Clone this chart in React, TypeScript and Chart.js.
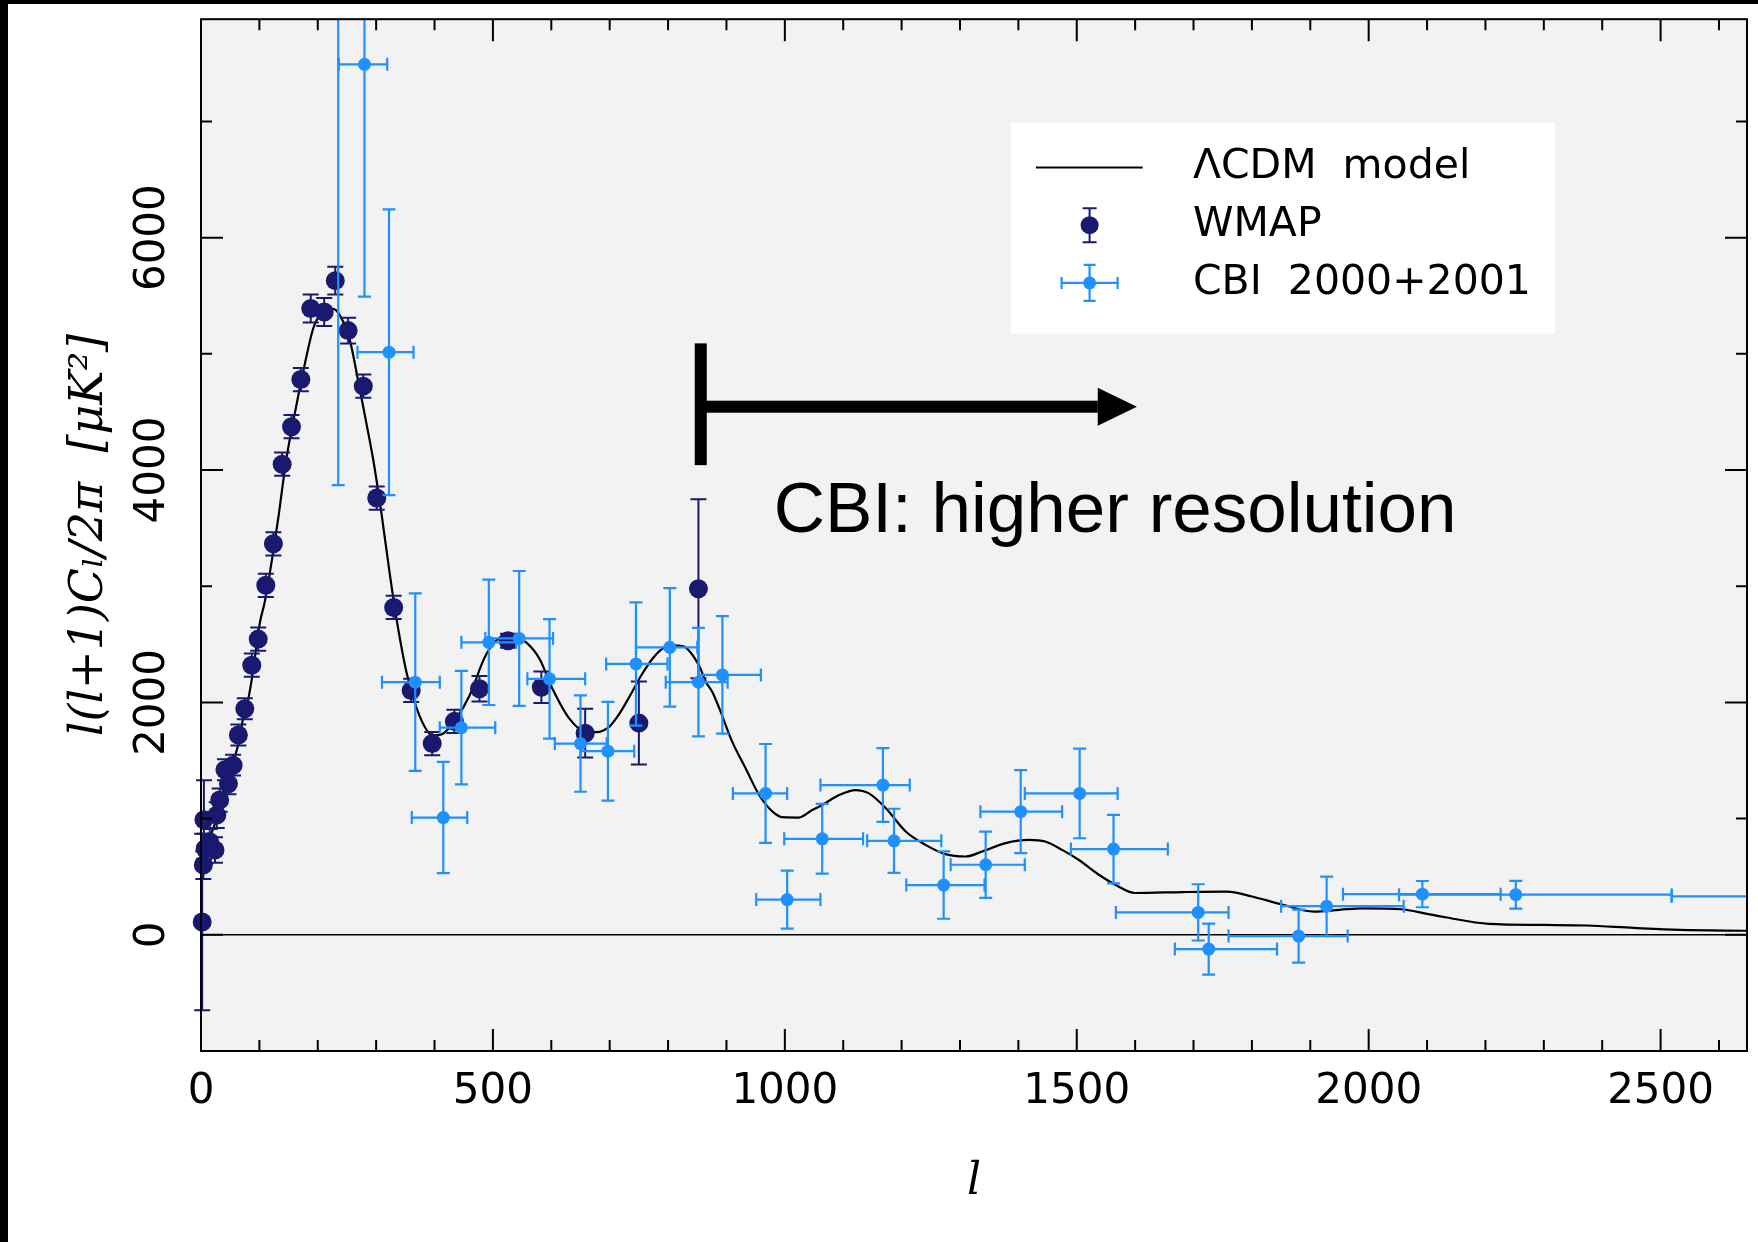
import React, { useEffect, useRef } from "react";
import { Chart, registerables } from "chart.js";

Chart.register(...registerables);

// ---------- axes ----------
const X_MIN = 0;
const X_MAX = 2648;
const Y_MIN = -1000;
const Y_MAX = 7880;
const xTickLabels = [0, 500, 1000, 1500, 2000, 2500];
const xMinorTicks = [100, 200, 300, 400, 600, 700, 800, 900, 1100, 1200, 1300, 1400, 1600, 1700, 1800, 1900, 2100, 2200, 2300, 2400, 2600];
const yTickLabels = [0, 2000, 4000, 6000];
const yMinorTicks = [1000, 3000, 5000, 7000];

// ---------- LCDM model curve ----------
const modelL = [2, 10, 20, 30, 40, 50, 64, 72, 81, 87, 101, 109, 118, 132, 146, 164, 178, 192, 201, 215, 226, 238, 255, 269, 280, 295, 309, 323, 335, 352, 374, 397, 412, 437, 460, 486, 505, 525, 540, 557, 580, 602, 631, 659, 677, 699, 715, 735, 755, 773, 790, 805, 819, 830, 853, 865, 876, 888, 910, 933, 956, 979, 996, 1024, 1047, 1064, 1093, 1121, 1144, 1173, 1207, 1241, 1275, 1310, 1338, 1378, 1418, 1446, 1475, 1503, 1538, 1566, 1600, 1682, 1757, 1800, 1850, 1906, 1950, 1990, 2056, 2100, 2131, 2206, 2300, 2374, 2454, 2533, 2648];
const modelV = [820, 790, 900, 1060, 1240, 1420, 1640, 1860, 2030, 2200, 2690, 2860, 3117, 3574, 4088, 4573, 4916, 5216, 5316, 5380, 5387, 5330, 5116, 4773, 4488, 4088, 3631, 3117, 2716, 2260, 1889, 1717, 1725, 1860, 2060, 2388, 2531, 2575, 2560, 2517, 2374, 2117, 1860, 1746, 1745, 1790, 1890, 2060, 2240, 2374, 2460, 2490, 2488, 2474, 2317, 2174, 2088, 1946, 1660, 1431, 1203, 1060, 1012, 1009, 1074, 1117, 1203, 1246, 1217, 1089, 889, 774, 694, 674, 717, 789, 817, 803, 731, 646, 517, 431, 360, 368, 372, 330, 263, 200, 215, 228, 220, 180, 151, 94, 85, 80, 59, 42, 35];

// ---------- WMAP ----------
const wmapL = [2, 4, 5, 7, 15, 24, 27, 32, 41, 47, 55, 64, 75, 87, 98, 111, 124, 139, 155, 171, 188, 211, 230, 252, 278, 301, 330, 360, 396, 434, 477, 526, 583, 658, 750, 852];
const wmapV = [110, 600, 990, 740, 800, 730, 1030, 1160, 1420, 1300, 1460, 1720, 1945, 2320, 2545, 3008, 3365, 4050, 4373, 4779, 5390, 5360, 5630, 5200, 4722, 3759, 2817, 2103, 1646, 1837, 2117, 2531, 2131, 1735, 1822, 2979];
const wmapErr = [760, 120, 340, 130, 110, 110, 110, 100, 90, 90, 90, 90, 90, 100, 100, 100, 100, 100, 100, 100, 120, 120, 120, 110, 100, 100, 100, 100, 100, 100, 110, 60, 135, 210, 357, 770];

// ---------- CBI 2000+2001 ----------
const cbiL = [235, 280, 322, 367, 415, 446, 493, 545, 597, 650, 697, 745, 803, 852, 893, 967, 1004, 1064, 1168, 1187, 1272, 1344, 1404, 1505, 1563, 1708, 1726, 1880, 1928, 2092, 2252, 2900];
const cbiV = [8500, 7492, 5014, 2174, 1009, 1783, 2517, 2551, 2203, 1646, 1580, 2331, 2474, 2174, 2237, 1217, 303, 826, 1289, 809, 428, 603, 1060, 1217, 738, 193, -123, -11, 246, 350, 345, 330];
const cbiLLo = [195, 236, 268, 310, 361, 409, 446, 487, 559, 606, 650, 694, 745, 796, 852, 911, 951, 999, 1061, 1141, 1208, 1284, 1335, 1411, 1490, 1567, 1668, 1760, 1850, 1956, 2052, 2519];
const cbiLHi = [275, 319, 364, 409, 456, 504, 540, 603, 658, 695, 742, 799, 850, 902, 959, 1004, 1061, 1134, 1214, 1268, 1342, 1411, 1475, 1570, 1656, 1760, 1843, 1964, 2060, 2226, 2519, 3300];
const cbiErr = [4630, 2000, 1230, 764, 479, 489, 539, 580, 514, 415, 425, 530, 510, 467, 505, 425, 250, 300, 317, 276, 290, 285, 357, 386, 295, 242, 220, 228, 255, 113, 120, 120];

// ---------- annotation / legend anchors (data units) ----------
const annotation = { barL: 856, barV: [4042, 5090], shaftV: 4545, shaftEndL: 1536, tipL: 1603, headHalfV: 163, textL: 981, textV: 3468, text: "CBI: higher resolution" };
const legendBox = { l: [1387, 2319], v: [6990, 5173], sampleL: 1522, lineL: [1430, 1613], textL: 1699, rowsV: [6604, 6107, 5610] };
const legendLabels = ["\u039BCDM  model", "WMAP", "CBI  2000+2001"];

const NAVY = "#191970";
const DODGER = "#1e90ff";

const errorBarPlugin = {
  id: "errorBars",
  beforeDatasetDraw(chart: any, args: any) {
    const ds = chart.data.datasets[args.index];
    const eb = ds.errorBars;
    if (!eb) return;
    const { ctx, chartArea: a, scales } = chart;
    const xs = scales.x, ys = scales.y;
    ctx.save();
    ctx.beginPath();
    ctx.rect(a.left - eb.clipLeft, a.top, a.right - a.left + eb.clipLeft, a.bottom - a.top);
    ctx.clip();
    ctx.strokeStyle = eb.color;
    ctx.lineWidth = eb.width;
    ctx.lineCap = "butt";
    for (const p of ds.data) {
      const px = xs.getPixelForValue(p.x);
      const py = ys.getPixelForValue(p.y);
      ctx.beginPath();
      if (p.yMin !== undefined) {
        const y0 = ys.getPixelForValue(p.yMin);
        const y1 = ys.getPixelForValue(p.yMax);
        ctx.moveTo(px, y0); ctx.lineTo(px, y1);
        ctx.moveTo(px - eb.cap, y0); ctx.lineTo(px + eb.cap, y0);
        ctx.moveTo(px - eb.cap, y1); ctx.lineTo(px + eb.cap, y1);
      }
      if (p.xMin !== undefined) {
        const x0 = xs.getPixelForValue(p.xMin);
        const x1 = xs.getPixelForValue(p.xMax);
        ctx.moveTo(x0, py); ctx.lineTo(x1, py);
        ctx.moveTo(x0, py - eb.cap); ctx.lineTo(x0, py + eb.cap);
        ctx.moveTo(x1, py - eb.cap); ctx.lineTo(x1, py + eb.cap);
      }
      ctx.stroke();
    }
    ctx.restore();
  },
};

const backgroundPlugin = {
  id: "plotBg",
  beforeDraw(chart: any) {
    const { ctx, chartArea: a } = chart;
    ctx.save();
    ctx.fillStyle = "#f2f2f2";
    ctx.fillRect(a.left, a.top, a.right - a.left, a.bottom - a.top);
    ctx.restore();
  },
};

const framePlugin = {
  id: "frameTicks",
  afterDraw(chart: any) {
    const { ctx, chartArea: a, scales } = chart;
    const xs = scales.x, ys = scales.y;
    ctx.save();
    ctx.strokeStyle = "#000";
    ctx.lineWidth = 2;
    ctx.beginPath();
    const tick = (vals: number[], len: number) => {
      for (const v of vals) {
        const px = xs.getPixelForValue(v);
        if (px <= a.left + 1 || px >= a.right - 1) continue;
        ctx.moveTo(px, a.bottom); ctx.lineTo(px, a.bottom - len);
        ctx.moveTo(px, a.top); ctx.lineTo(px, a.top + len);
      }
    };
    const ytick = (vals: number[], len: number) => {
      for (const v of vals) {
        const py = ys.getPixelForValue(v);
        if (py <= a.top + 1 || py >= a.bottom - 1) continue;
        ctx.moveTo(a.left, py); ctx.lineTo(a.left + len, py);
        ctx.moveTo(a.right, py); ctx.lineTo(a.right - len, py);
      }
    };
    tick(xTickLabels, 22);
    tick(xMinorTicks, 11);
    ytick(yTickLabels, 22);
    ytick(yMinorTicks, 11);
    ctx.stroke();
    ctx.strokeRect(a.left, a.top, a.right - a.left, a.bottom - a.top);
    ctx.restore();
  },
};

const overlayPlugin = {
  id: "overlay",
  afterDatasetsDraw(chart: any) {
    const { ctx, scales } = chart;
    const xs = scales.x, ys = scales.y;
    const X = (v: number) => xs.getPixelForValue(v);
    const Y = (v: number) => ys.getPixelForValue(v);
    ctx.save();
    // ---- annotation arrow ----
    ctx.fillStyle = "#000";
    const bx = X(annotation.barL);
    ctx.fillRect(bx - 6, Y(annotation.barV[1]), 12, Y(annotation.barV[0]) - Y(annotation.barV[1]));
    const sy = Y(annotation.shaftV);
    ctx.fillRect(bx, sy - 6, X(annotation.shaftEndL) - bx, 12);
    ctx.beginPath();
    ctx.moveTo(X(annotation.shaftEndL), Y(annotation.shaftV + annotation.headHalfV));
    ctx.lineTo(X(annotation.tipL), sy);
    ctx.lineTo(X(annotation.shaftEndL), Y(annotation.shaftV - annotation.headHalfV));
    ctx.closePath();
    ctx.fill();
    ctx.font = "71px 'Liberation Sans', Arial, sans-serif";
    ctx.textBaseline = "alphabetic";
    ctx.textAlign = "left";
    ctx.fillText(annotation.text, X(annotation.textL), Y(annotation.textV));

    // ---- legend ----
    const lx0 = X(legendBox.l[0]), lx1 = X(legendBox.l[1]);
    const ly0 = Y(legendBox.v[0]), ly1 = Y(legendBox.v[1]);
    ctx.fillStyle = "#ffffff";
    ctx.fillRect(lx0, ly0, lx1 - lx0, ly1 - ly0);
    const sx = X(legendBox.sampleL);
    const r0 = Y(legendBox.rowsV[0]), r1 = Y(legendBox.rowsV[1]), r2 = Y(legendBox.rowsV[2]);
    // model line sample
    ctx.strokeStyle = "#000";
    ctx.lineWidth = 2;
    ctx.beginPath();
    ctx.moveTo(X(legendBox.lineL[0]), r0);
    ctx.lineTo(X(legendBox.lineL[1]), r0);
    ctx.stroke();
    // WMAP sample
    ctx.strokeStyle = NAVY;
    ctx.lineWidth = 2;
    ctx.beginPath();
    ctx.moveTo(sx, r1 - 17); ctx.lineTo(sx, r1 + 17);
    ctx.moveTo(sx - 7, r1 - 17); ctx.lineTo(sx + 7, r1 - 17);
    ctx.moveTo(sx - 7, r1 + 17); ctx.lineTo(sx + 7, r1 + 17);
    ctx.stroke();
    ctx.fillStyle = NAVY;
    ctx.beginPath(); ctx.arc(sx, r1, 9, 0, Math.PI * 2); ctx.fill();
    // CBI sample
    ctx.strokeStyle = DODGER;
    ctx.lineWidth = 2.2;
    ctx.beginPath();
    ctx.moveTo(sx, r2 - 18); ctx.lineTo(sx, r2 + 18);
    ctx.moveTo(sx - 6, r2 - 18); ctx.lineTo(sx + 6, r2 - 18);
    ctx.moveTo(sx - 6, r2 + 18); ctx.lineTo(sx + 6, r2 + 18);
    ctx.moveTo(sx - 28, r2); ctx.lineTo(sx + 28, r2);
    ctx.moveTo(sx - 28, r2 - 6); ctx.lineTo(sx - 28, r2 + 6);
    ctx.moveTo(sx + 28, r2 - 6); ctx.lineTo(sx + 28, r2 + 6);
    ctx.stroke();
    ctx.fillStyle = DODGER;
    ctx.beginPath(); ctx.arc(sx, r2, 6.5, 0, Math.PI * 2); ctx.fill();
    // labels
    ctx.fillStyle = "#000";
    ctx.font = "41px 'DejaVu Sans', sans-serif";
    ctx.textBaseline = "middle";
    const tx = X(legendBox.textL);
    ctx.fillText(legendLabels[0], tx, r0);
    ctx.fillText(legendLabels[1], tx, r1);
    ctx.fillText(legendLabels[2], tx, r2);
    ctx.restore();
  },
};

export default function App() {
  const canvasRef = useRef<HTMLCanvasElement | null>(null);

  useEffect(() => {
    document.body.style.margin = "0";
    const canvas = canvasRef.current;
    if (!canvas) return;

    const modelData = modelL.map((l, i) => ({ x: l, y: modelV[i] }));
    const wmapData = wmapL.map((l, i) => ({ x: l, y: wmapV[i], yMin: wmapV[i] - wmapErr[i], yMax: wmapV[i] + wmapErr[i] }));
    const cbiData = cbiL.map((l, i) => ({ x: l, y: cbiV[i], xMin: cbiLLo[i], xMax: cbiLHi[i], yMin: cbiV[i] - cbiErr[i], yMax: cbiV[i] + cbiErr[i] }));

    const chart = new Chart(canvas, {
      type: "scatter",
      data: {
        datasets: [
          {
            label: "CBI 2000+2001",
            data: cbiData,
            pointRadius: 6.5,
            pointBackgroundColor: DODGER,
            pointBorderWidth: 0,
            showLine: false,
            errorBars: { color: DODGER, width: 2.2, cap: 6.5, clipLeft: 0 },
          } as any,
          {
            label: "WMAP",
            data: wmapData,
            pointRadius: 9.5,
            pointBackgroundColor: NAVY,
            pointBorderWidth: 0,
            showLine: false,
            clip: 12,
            errorBars: { color: NAVY, width: 2, cap: 8, clipLeft: 12 },
          } as any,
          {
            label: "\u039BCDM model",
            data: modelData,
            showLine: true,
            pointRadius: 0,
            borderColor: "#000",
            borderWidth: 2.2,
            cubicInterpolationMode: "monotone",
            fill: false,
          } as any,
        ],
      },
      options: {
        responsive: false,
        devicePixelRatio: 1,
        animation: false,
        layout: { padding: { left: 0, right: 11, top: 14, bottom: 0 } },
        plugins: { legend: { display: false }, tooltip: { enabled: false } },
        scales: {
          x: {
            type: "linear",
            min: X_MIN,
            max: X_MAX,
            position: "bottom",
            grid: { display: false, drawTicks: false },
            border: { display: false },
            afterBuildTicks: (s: any) => { s.ticks = xTickLabels.map((v) => ({ value: v })); },
            afterFit: (s: any) => { s.height = 191; },
            ticks: {
              autoSkip: false,
              maxRotation: 0,
              minRotation: 0,
              padding: 16,
              color: "#000",
              font: { family: "'DejaVu Sans'", size: 42 },
              callback: (v: any) => String(v),
            },
            title: {
              display: true,
              text: "l",
              color: "#000",
              font: { family: "'DejaVu Serif'", style: "italic", size: 44 },
              padding: { top: 0, bottom: 33 },
            },
          },
          y: {
            type: "linear",
            min: Y_MIN,
            max: Y_MAX,
            position: "left",
            grid: {
              display: true,
              drawTicks: false,
              color: (c: any) => (c.tick && c.tick.value === 0 ? "#000" : "rgba(0,0,0,0)"),
              lineWidth: 1.6,
            },
            border: { display: false },
            afterBuildTicks: (s: any) => { s.ticks = yTickLabels.map((v) => ({ value: v })); },
            afterFit: (s: any) => { s.width = 201; },
            ticks: {
              autoSkip: false,
              minRotation: 90,
              maxRotation: 90,
              crossAlign: "center",
              padding: -6,
              color: "#000",
              font: { family: "'DejaVu Sans'", size: 42 },
              callback: (v: any) => String(v),
            },
            title: {
              display: true,
              text: "l(l+1)C\u2097/2\u03C0  [\u03BCK\u00B2]",
              color: "#000",
              font: { family: "'DejaVu Serif'", style: "italic", size: 46 },
              padding: { top: 62, bottom: 0 },
            },
          },
        },
      },
      plugins: [backgroundPlugin, errorBarPlugin, overlayPlugin, framePlugin],
    } as any);

    return () => chart.destroy();
  }, []);

  return (
    <div style={{ position: "relative", width: 1758, height: 1242, background: "#ffffff", overflow: "hidden" }}>
      <canvas ref={canvasRef} width={1758} height={1242} style={{ position: "absolute", left: 0, top: 0, width: 1758, height: 1242 }} />
      <div style={{ position: "absolute", left: 0, top: 0, width: 8, height: 1242, background: "#000" }} />
      <div style={{ position: "absolute", left: 0, top: 0, width: 1758, height: 4, background: "#000" }} />
    </div>
  );
}
